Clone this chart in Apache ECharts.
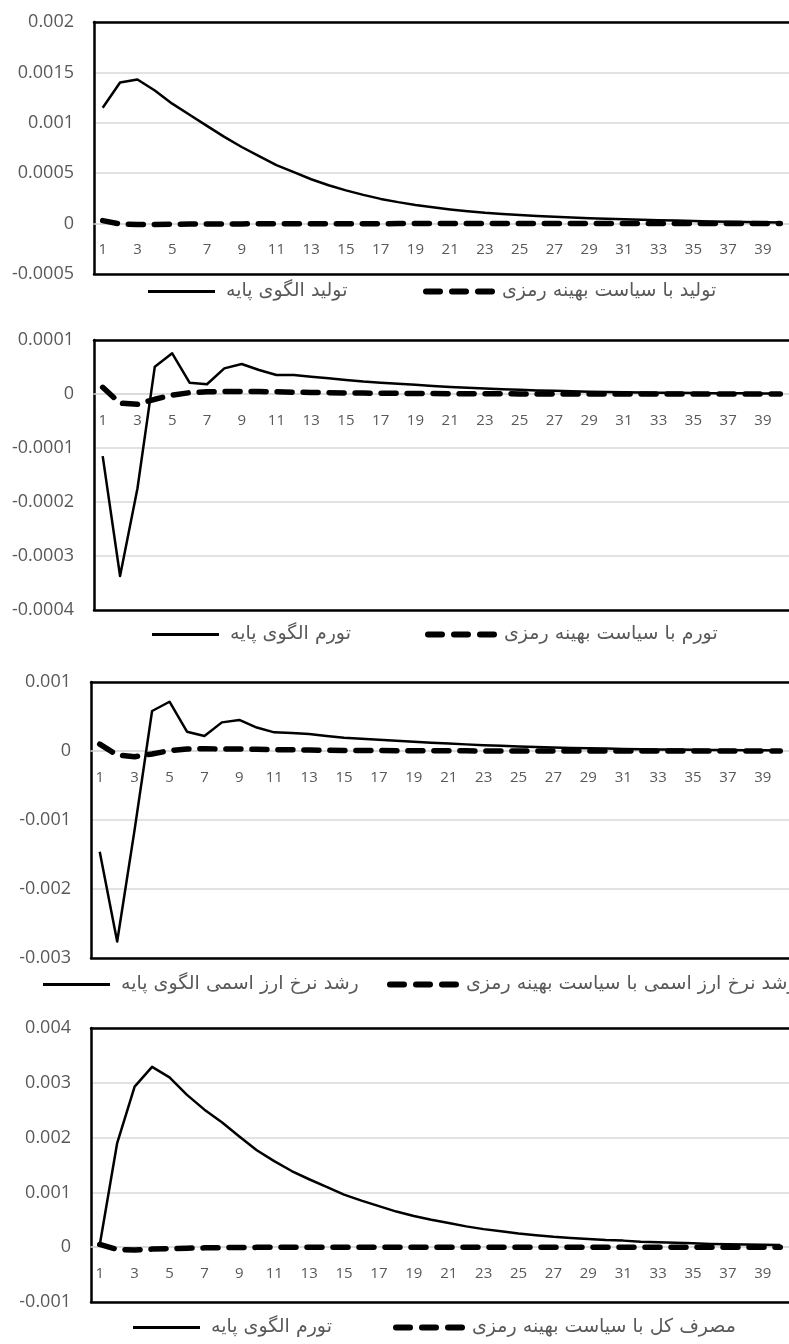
<!DOCTYPE html>
<html><head><meta charset="utf-8">
<script src="https://cdn.jsdelivr.net/npm/echarts@6/dist/echarts.min.js"></script>
<style>html,body{margin:0;padding:0;background:#fff}#c{width:789px;height:1344px}</style>
</head><body><div id="c"></div>
<script>
const periods = ['1','2','3','4','5','6','7','8','9','10','11','12','13','14','15','16','17','18','19','20','21','22','23','24','25','26','27','28','29','30','31','32','33','34','35','36','37','38','39','40'];

const namesOutput = ['تولید الگوی پایه', 'تولید با سیاست بهینه رمزی'];
const namesInflation = ['تورم الگوی پایه', 'تورم با سیاست بهینه رمزی'];
const namesExchange = ['رشد نرخ ارز اسمی الگوی پایه', 'رشد نرخ ارز اسمی با سیاست بهینه رمزی'];
const namesConsumption = ['تورم الگوی پایه', 'مصرف کل با سیاست بهینه رمزی'];

const outputBase = [0.00115,0.0014,0.00143,0.00132,0.00119,0.00108,0.00097,0.00086,0.00076,0.00067,0.00058,0.00051,0.00044,0.00038,0.00033,0.000285,0.000245,0.000213,0.000185,0.000162,0.000141,0.000123,0.000107,0.000095,0.000085,0.000075,0.000067,0.00006,0.000054,0.000048,0.000043,0.000038,0.000034,0.00003,0.000026,0.000022,0.000019,0.000016,0.000013,0.00001];
const outputOpt = [0.00003,-0.000005,-0.00001,-0.000008,-0.000006,-0.000005,-0.000004,-0.000003,-0.000003,-0.000002,-0.000002,-0.000002,-0.000001,-0.000001,-0.000001,-0.000001,-0.000001,0,0,0,0,0,0,0,0,0,0,0,0,0,0,0,0,0,0,0,0,0,0,0];

const inflBase = [-0.000115,-0.000337,-0.000175,0.0000506,0.0000753,0.000021,0.000018,0.0000475,0.0000556,0.0000444,0.0000352,0.000035,0.000032,0.000029,0.000026,0.000023,0.000021,0.000019,0.000017,0.000015,0.000013,0.0000115,0.00001,0.0000088,0.0000077,0.0000067,0.0000058,0.000005,0.0000043,0.0000037,0.0000032,0.0000028,0.0000024,0.0000021,0.0000018,0.0000016,0.0000014,0.0000012,0.000001,0.000001];
const inflOpt = [0.0000124,-0.000017,-0.000019,-0.0000098,-0.000002,0.0000025,0.000004,0.0000045,0.0000048,0.0000045,0.000004,0.0000033,0.000003,0.0000025,0.000002,0.0000017,0.0000014,0.0000012,0.000001,0.0000008,0.0000006,0.0000005,0.0000004,0.0000003,0.0000002,0.0000002,0.0000001,0.0000001,0,0,0,0,0,0,0,0,0,0,0,0];

const exchBase = [-0.00146,-0.00276,-0.00114,0.00058,0.000714,0.00028,0.000217,0.000415,0.00045,0.00034,0.00027,0.000262,0.000246,0.000217,0.000193,0.000178,0.000164,0.00015,0.000135,0.000121,0.000108,0.000096,0.000085,0.000075,0.000066,0.000058,0.000051,0.000045,0.00004,0.000035,0.00003,0.000027,0.000023,0.00002,0.000018,0.000016,0.000014,0.000012,0.00001,0.000009];
const exchOpt = [0.0001,-0.000058,-0.000082,-0.000043,0.000005,0.00003,0.000032,0.00003,0.000028,0.000025,0.00002,0.000017,0.000014,0.000011,0.000009,0.000007,0.000006,0.000005,0.000004,0.000003,0.000002,0.000002,0.000001,0.000001,0,0,0,0,0,0,0,0,0,0,0,0,0,0,0,0];

const consBase = [0.00004,0.0019,0.00293,0.00329,0.0031,0.00278,0.00251,0.00228,0.00202,0.00177,0.00157,0.00139,0.00124,0.0011,0.00096,0.00085,0.00075,0.00065,0.00057,0.0005,0.00044,0.00038,0.00033,0.00029,0.00025,0.00022,0.00019,0.00017,0.00015,0.00013,0.00012,0.0001,0.00009,0.00008,0.00007,0.00006,0.000055,0.00005,0.000045,0.00004];
const consOpt = [0.00005,-0.00004,-0.00005,-0.000035,-0.000025,-0.000018,-0.000012,-0.000008,-0.000005,-0.000003,-0.000002,-0.000001,0,0,0,0,0,0,0,0,0,0,0,0,0,0,0,0,0,0,0,0,0,0,0,0,0,0,0,0];

const panels = [
  {names:namesOutput, base:outputBase, opt:outputOpt, min:-0.0005, max:0.002, step:0.0005,
   top:22, height:252, left:94, width:702, legC:293, legA:148, legB:423},
  {names:namesInflation, base:inflBase, opt:inflOpt, min:-0.0004, max:0.0001, step:0.0001,
   top:340, height:270, left:94, width:702, legC:636, legA:152, legB:425},
  {names:namesExchange, base:exchBase, opt:exchOpt, min:-0.003, max:0.001, step:0.001,
   top:682, height:276, left:91, width:708, legC:986, legA:43, legB:387},
  {names:namesConsumption, base:consBase, opt:consOpt, min:-0.001, max:0.004, step:0.001,
   top:1028, height:274, left:91, width:708, legC:1329, legA:133, legB:393}
];

const dashIcon = 'path://M3,0H17A3,3,0,0,1,17,6H3A3,3,0,0,1,3,0ZM29,0H43A3,3,0,0,1,43,6H29A3,3,0,0,1,29,0ZM55,0H69A3,3,0,0,1,69,6H55A3,3,0,0,1,55,0Z';

const grid = [], xAxis = [], yAxis = [], series = [], legend = [];
const labelColor = '#595959';
const borderAxis = (i, pos) => ({type:'category', gridIndex:i, data:periods, position:pos,
  axisLine:{show:true, onZero:false, lineStyle:{color:'#000', width:2.5}},
  axisTick:{show:false}, axisLabel:{show:false}, splitLine:{show:false}});
panels.forEach((p, i) => {
  grid.push({left:p.left, top:p.top, width:p.width, height:p.height});
  // axis placed on the zero line
  const zeroOffset = -p.height * (0 - p.min) / (p.max - p.min);
  xAxis.push({type:'category', gridIndex:i, data:periods, boundaryGap:true, position:'bottom',
    offset: zeroOffset,
    axisLine:{onZero:false, lineStyle:{color:'#d9d9d9', width:1.5}},
    axisTick:{show:false},
    axisLabel:{interval:1, color:labelColor, fontSize:15, fontFamily:'Open Sans', margin:19},
    splitLine:{show:false}, z:1});
  xAxis.push(borderAxis(i, 'top'));
  xAxis.push(borderAxis(i, 'bottom'));
  yAxis.push({type:'value', gridIndex:i, min:p.min, max:p.max, interval:p.step,
    axisLine:{show:true, onZero:false, lineStyle:{color:'#000', width:2.5}},
    axisTick:{show:false},
    axisLabel:{color:labelColor, fontSize:18, fontFamily:'Open Sans', margin:20,
      formatter: v => String(+v.toFixed(6))},
    splitLine:{lineStyle:{color:'#d9d9d9', width:1.5}}});
  series.push({name:p.names[0], type:'line', xAxisIndex:3*i, yAxisIndex:i, data:p.base,
    symbol:'none', lineStyle:{color:'#000', width:2.5, join:'round'}, itemStyle:{color:'#000'}, z:3});
  series.push({name:p.names[1], type:'line', xAxisIndex:3*i, yAxisIndex:i, data:p.opt,
    symbol:'none', lineStyle:{color:'#000', width:5.5, type:[15,11], cap:'round', join:'round'}, itemStyle:{color:'#000'}, z:4});
  legend.push({left:p.legA, top:p.legC - 11, padding:0, data:[{name:p.names[0], icon:'rect'}],
    itemWidth:67, itemHeight:3, selectedMode:false, itemStyle:{color:'#000'},
    textStyle:{color:labelColor, fontSize:19, fontFamily:'DejaVu Sans', padding:[0,0,0,6]}});
  legend.push({left:p.legB, top:p.legC - 11, padding:0, data:[{name:p.names[1], icon:dashIcon}],
    itemWidth:72, itemHeight:6, selectedMode:false, itemStyle:{color:'#000'},
    textStyle:{color:labelColor, fontSize:19, fontFamily:'DejaVu Sans', padding:[0,0,0,2]}});
});

const chart = echarts.init(document.getElementById('c'), null, {renderer:'canvas'});
chart.setOption({animation:false, backgroundColor:'#fff', grid, xAxis, yAxis, series, legend});
</script></body></html>
